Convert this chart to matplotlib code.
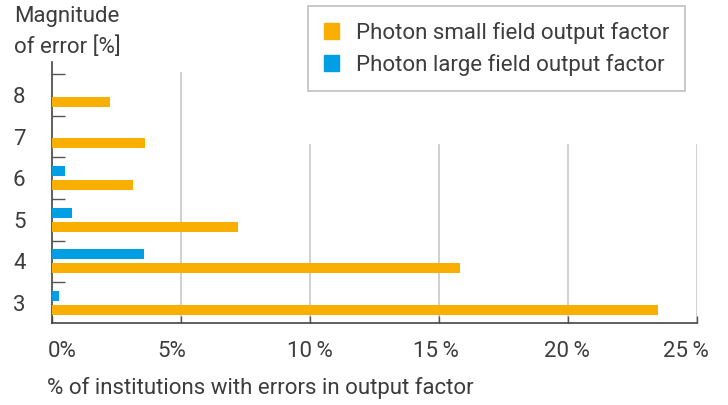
import numpy as np
import matplotlib.pyplot as plt
import matplotlib.transforms as mtransforms
from matplotlib.patches import Patch

plt.rcParams['font.family'] = ['Roboto', 'DejaVu Sans']

# Data
magnitudes = [3, 4, 5, 6, 7, 8]
small_field = [23.5, 15.8, 7.2, 3.15, 3.6, 2.25]
large_field = [0.27, 3.57, 0.78, 0.5, 0.0, 0.0]
xticks = [0, 5, 10, 15, 20, 25]
xtick_labels = ['0%', '5%', '10\u2009%', '15\u2009%', '20\u2009%', '25\u2009%']

orange = '#F9AF00'
blue = '#009FE3'
text_col = '#3d3d3d'
grid_col = '#c8c8c8'

fig = plt.figure(figsize=(7.28, 4.05), dpi=100)
ax = fig.add_axes([52/728, 82/405, 645/728, 261/405])

y = np.array(magnitudes)
h = 0.24
off = 0.167
ax.barh(y - off, small_field, height=h, color=orange, zorder=3)
ax.barh(y + off, large_field, height=h, color=blue, zorder=3)

ax.set_xlim(0, 25)
ax.set_ylim(2.52, 8.79)

# vertical gridlines (shorter ones stop below the legend)
for xv in xticks[1:]:
    top = 0.958 if xv == 5 else 0.682
    ax.axvline(xv, ymin=0, ymax=top, color=grid_col, lw=1.2, zorder=1)

ax.set_xticks(xticks)
ax.set_xticklabels(xtick_labels)
ax.set_yticks(magnitudes)
ax.set_yticklabels([str(m) for m in magnitudes])
ax.set_yticks(np.arange(3.5, 9, 1), minor=True)
ax.tick_params(axis='y', which='major', length=0, pad=19, labelsize=16, labelcolor=text_col)
ax.tick_params(axis='y', which='minor', direction='in', length=9, width=1, color='#555555')
ax.tick_params(axis='x', which='major', direction='in', length=5, width=1, color='#555555',
               pad=13, labelsize=16, labelcolor=text_col)

# the x labels sit slightly off-centre in the original
shifts = [10, -9, 0, -3, -1, -11]
for lbl, dx in zip(ax.get_xticklabels(), shifts):
    lbl.set_transform(lbl.get_transform() +
                      mtransforms.ScaledTranslation(dx/100, 0, fig.dpi_scale_trans))

for s in ['top', 'right']:
    ax.spines[s].set_visible(False)
for s in ['left', 'bottom']:
    ax.spines[s].set_color('#444444')
    ax.spines[s].set_linewidth(1.2)

handles = [Patch(color=orange, label='Photon small field output factor'),
           Patch(color=blue, label='Photon large field output factor')]
leg = fig.legend(handles=handles, loc='upper left', bbox_to_anchor=(308/728, 1 - 6/405),
                 frameon=True, fancybox=False, fontsize=16, handlelength=0.7, handleheight=0.7,
                 handletextpad=0.75, borderpad=0.7, labelspacing=0.45, labelcolor=text_col,
                 borderaxespad=0)
leg.get_frame().set_edgecolor('#b0b0b0')
leg.get_frame().set_linewidth(1.2)

fig.text(14/728, 1 - 6/405, 'Magnitude\nof error [%]', ha='left', va='top',
         fontsize=16, color=text_col, linespacing=1.55)
fig.text(47/728, 1 - 388/405, '% of institutions with errors in output factor',
         ha='left', va='center', fontsize=16, color=text_col)

fig.savefig('out.png', dpi=100)
